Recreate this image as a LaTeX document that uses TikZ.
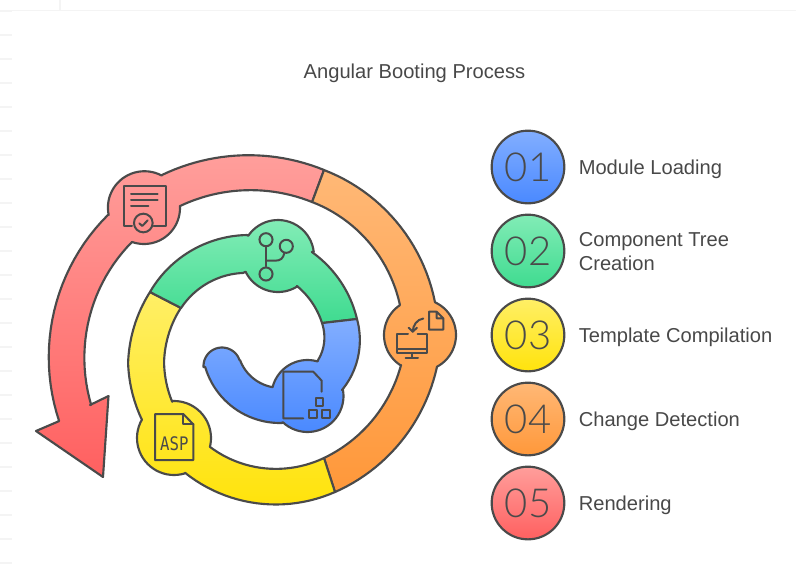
\documentclass[tikz,border=0pt]{standalone}
\usepackage{fontspec}
\setmainfont{Liberation Sans}
\newfontfamily\numfont{Lato Light}
\newfontfamily\aspfont{DejaVu Sans Mono}
\definecolor{ink}{HTML}{4A4A4A}
\definecolor{txt}{HTML}{484848}
\definecolor{faint}{HTML}{F4F4F4}
\definecolor{redA}{HTML}{FF9E9B}\definecolor{redB}{HTML}{FF6060}
\definecolor{orangeA}{HTML}{FFB876}\definecolor{orangeB}{HTML}{FF983A}
\definecolor{yellowA}{HTML}{FFEF66}\definecolor{yellowB}{HTML}{FFE30C}
\definecolor{greenA}{HTML}{82ECB6}\definecolor{greenB}{HTML}{3FDB90}
\definecolor{blueA}{HTML}{82AEFF}\definecolor{blueB}{HTML}{4A89FF}
% piece of a ring: centre x, y, from angle, to angle, from radius, to radius
\newcommand\ringpart[6]{-- plot[domain=#3:#4,samples=25,variable=\t]
	({#1+(#5+(#6-(#5))*(\t-(#3))/(#4-(#3)))*cos(\t)},{#2+(#5+(#6-(#5))*(\t-(#3))/(#4-(#3)))*sin(\t)})}
\tikzset{
	ring/.style 2 args={draw=ink,line width=1.6pt,line join=round,top color=#1,bottom color=#2},
	numdot/.style 2 args={circle,draw=ink,line width=1.6pt,minimum size=54.5pt,inner sep=0pt,top color=#1,bottom color=#2,text=ink,font=\numfont\fontsize{30}{30}\selectfont},
	lbl/.style={anchor=west,text=txt,font=\fontsize{15.1}{18}\selectfont,align=left,inner sep=0pt},
	icon/.style={draw=ink,line width=1.5pt,line join=round,line cap=round},
	tick/.style={draw=faint,line width=0.9pt}
}
\begin{document}
\begin{tikzpicture}[x=0.75pt,y=-0.75pt]
	\useasboundingbox (0,0) rectangle (796,569);
	% faint leftovers behind the picture
	\draw[tick] (12,10.5) -- (796,10.5);
	\draw[tick] (60,0) -- (60,10);
	\foreach \y in {11,35,...,563} \draw[tick] (0,\y) -- (12,\y);

	\node[text=txt,font=\fontsize{15.1}{18}\selectfont,inner sep=0pt] (title) at (414.5,73) {Angular Booting Process};

	% outer red arrow
	\draw[ring={redA}{redB}] (324,170) \ringpart{250}{355}{-68.2}{-116.1}{199.3}{200.4}
		\ringpart{144}{208}{-61.4}{-191}{37}{36}
		\ringpart{250}{355}{-135.4}{-199.1}{199.5}{202}
		-- (36,431) -- (103,477) -- (108.5,396) -- (90,405)
		\ringpart{250}{355}{-197.4}{-136.2}{166.5}{163.4}
		\ringpart{144}{208}{109.4}{-3}{36}{36}
		\ringpart{250}{355}{-115.2}{-67.9}{164.6}{165.1} -- cycle;
	% orange
	\draw[ring={orangeA}{orangeB}] (324,170) \ringpart{258}{335}{-68.2}{-10.6}{177.7}{180}
		\ringpart{420}{335}{-65.6}{62}{36}{36}
		\ringpart{258}{335}{10.1}{63.9}{181.8}{174.9}
		\ringpart{258}{332}{62.4}{13}{142.2}{146.8}
		\ringpart{420}{335}{122.3}{236.3}{36}{36}
		\ringpart{258}{332}{-10.8}{-67.4}{144.5}{140.8} -- cycle;
	% yellow
	\draw[ring={yellowA}{yellowB}] (335,492) \ringpart{272}{358}{64.8}{127.1}{148.1}{144}
		\ringpart{174}{438}{72.6}{210}{37}{37}
		\ringpart{272}{358}{155}{178}{144}{144}
		\ringpart{272}{358}{178}{208.4}{144}{138.7}
		\ringpart{272}{358}{208.8}{178}{104}{108}
		\ringpart{272}{358}{178}{156.3}{108}{109}
		\ringpart{174}{438}{-93}{14}{37}{37}
		\ringpart{272}{358}{124.9}{62.5}{108.4}{112.7} -- cycle;
	% green
	\draw[ring={greenA}{greenB}] (150,292) \ringpart{248}{350}{-149.4}{-90.5}{113.9}{115}
		\ringpart{278}{256}{-145.9}{-6.7}{36}{36}
		\ringpart{248}{350}{-56.9}{-15.9}{117}{113.3}
		\ringpart{248}{350}{-20}{-52.6}{78.8}{80.6}
		\ringpart{278}{256}{57.7}{154.1}{36}{36}
		\ringpart{248}{350}{-93.7}{-147.9}{77.2}{79} -- cycle;
	% blue
	\draw[ring={blueA}{blueB}] (357,319) \ringpart{280}{345}{-18.7}{36}{81.3}{76.6}
		\ringpart{307.5}{396}{-9.9}{133.4}{36}{36}
		\ringpart{280}{345}{88.5}{163.7}{78}{78}
		\ringpart{222}{366}{176.6}{341.6}{18.5}{18.5}
		\ringpart{280}{345}{159.4}{100.8}{42.7}{42.8}
		\ringpart{307.5}{396}{-165.7}{-73.7}{36}{36}
		\ringpart{280}{345}{21.5}{-27.6}{40.9}{47.4} -- cycle;

	% icon of the red part
	\draw[icon] (132,226) -- (123.5,226) -- (123.5,185.5) -- (165.5,185.5) -- (165.5,226) -- (153.5,226);
	\draw[icon] (131,193.7) -- (157.7,193.7);
	\draw[icon] (131,200) -- (157.7,200);
	\draw[icon] (131,206) -- (148.3,206);
	\node[circle,draw=ink,line width=1.5pt,minimum size=14pt,inner sep=0pt] (seal) at (143.3,223) {};
	\draw[icon] (139.3,223.3) -- (142.3,226) -- (147.7,220.3);
	% icon of the orange part
	\draw[icon] (436.7,311.7) -- (429,311.7) -- (429,329.5) -- (443.3,329.5) -- (443.3,318.3) -- (436.7,311.7) -- (436.7,318.3) -- (443.3,318.3);
	\draw[icon] (423.3,318.5) .. controls (417,319.5) and (413,325) .. (412.7,331.7);
	\draw[icon] (408.7,327.7) -- (412.7,331.7) -- (417,327.7);
	\draw[icon] (408,334) -- (397,334) -- (397,353.3) -- (427,353.3) -- (427,334) -- (417.5,334);
	\draw[icon] (397,349.3) -- (427,349.3);
	\draw[icon] (411.7,353.3) -- (411.7,357.5);
	\draw[icon] (405.5,357.5) -- (418,357.5);
	% icon of the green part
	\node[circle,draw=ink,line width=1.5pt,minimum size=9.8pt,inner sep=0pt] (branchA) at (266,239.7) {};
	\node[circle,draw=ink,line width=1.5pt,minimum size=9.8pt,inner sep=0pt] (branchB) at (266,274) {};
	\node[circle,draw=ink,line width=1.5pt,minimum size=9.8pt,inner sep=0pt] (branchC) at (286.3,246.3) {};
	\draw[icon] (branchA) -- (branchB);
	\draw[icon] (266,260.7) -- (275,260.7) .. controls (281,260.7) and (283,258) .. (branchC);
	% icon of the blue part
	\draw[icon] (303.3,418.3) -- (283.3,418.3) -- (283.3,371.7) -- (313.3,371.7) -- (321.7,380.7) -- (321.7,391.7);
	\draw[icon] (315.7,397.7) rectangle (323.3,405.7);
	\draw[icon] (309,410) rectangle (317,417.7);
	\draw[icon] (321.7,410) rectangle (329.7,417.7);
	% icon of the yellow part
	\draw[icon] (155,414) -- (183.3,414) -- (193.3,424.3) -- (193.3,460) -- (155,460) -- cycle;
	\draw[icon] (183.3,414) -- (183.3,424.3) -- (193.3,424.3);
	\node[text=ink,inner sep=0pt,font=\aspfont\fontsize{14}{14}\selectfont,xscale=0.84,transform shape] (asp) at (174.3,444) {ASP};

	% list on the right
	\node[numdot={blueA}{blueB}] (one) at (528,167) {01};
	\node[numdot={greenA}{greenB}] (two) at (528,251) {02};
	\node[numdot={yellowA}{yellowB}] (three) at (528,335) {03};
	\node[numdot={orangeA}{orangeB}] (four) at (528,419) {04};
	\node[numdot={redA}{redB}] (five) at (528,503) {05};
	\node[lbl] (oneL) at (578.5,169) {Module Loading};
	\node[lbl] (twoL) at (578.5,252) {Component Tree\\Creation};
	\node[lbl] (threeL) at (578.5,337) {Template Compilation};
	\node[lbl] (fourL) at (578.5,421) {Change Detection};
	\node[lbl] (fiveL) at (578.5,505) {Rendering};
\end{tikzpicture}
\end{document}
